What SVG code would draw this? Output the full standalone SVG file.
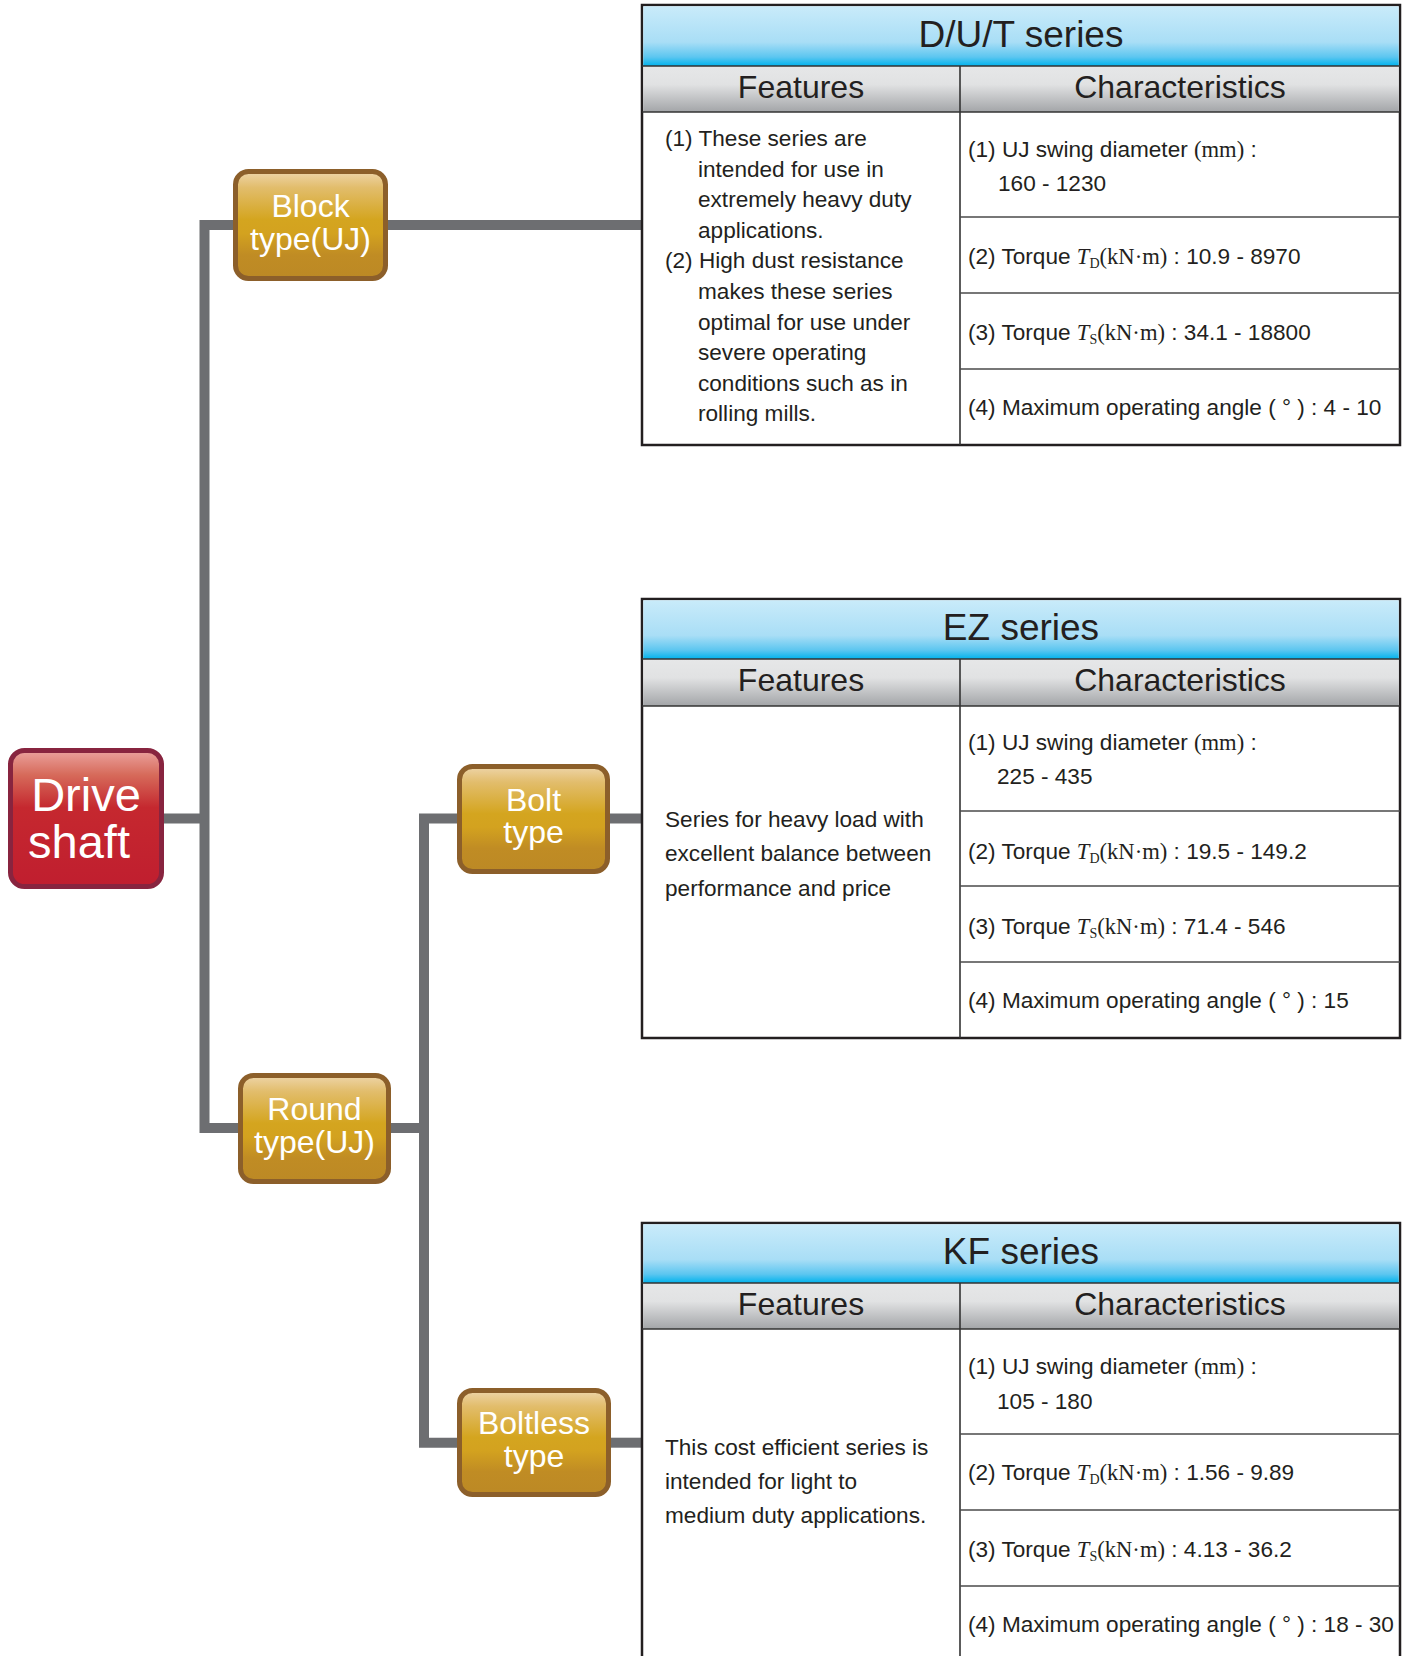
<svg xmlns="http://www.w3.org/2000/svg" width="1407" height="1656" viewBox="0 0 1407 1656">
<defs>
<linearGradient id="gGold" x1="0" y1="0" x2="0" y2="1">
<stop offset="0" stop-color="#eed5a9"/>
<stop offset="0.15" stop-color="#e2bd6c"/>
<stop offset="0.45" stop-color="#d4a51f"/>
<stop offset="0.58" stop-color="#d3a21f"/>
<stop offset="0.78" stop-color="#c08c24"/>
<stop offset="1" stop-color="#bc8925"/>
</linearGradient>
<linearGradient id="gRed" x1="0" y1="0" x2="0" y2="1">
<stop offset="0" stop-color="#eba29e"/>
<stop offset="0.18" stop-color="#d66a5a"/>
<stop offset="0.42" stop-color="#c5282f"/>
<stop offset="1" stop-color="#c01e2f"/>
</linearGradient>
<linearGradient id="gBlue" x1="0" y1="0" x2="0" y2="1">
<stop offset="0" stop-color="#c9ebfa"/>
<stop offset="0.6" stop-color="#a9def6"/>
<stop offset="0.85" stop-color="#5cc6f0"/>
<stop offset="1" stop-color="#00b3ed"/>
</linearGradient>
<linearGradient id="gGray" x1="0" y1="0" x2="0" y2="1">
<stop offset="0" stop-color="#e6e7e8"/>
<stop offset="0.4" stop-color="#e1e2e3"/>
<stop offset="1" stop-color="#a3a5a8"/>
</linearGradient>
</defs>
<style>
.conn{fill:none;stroke:#6d6e71;stroke-width:10;stroke-linejoin:miter;stroke-linecap:butt}
.gold{fill:url(#gGold);stroke:#8c5f2a;stroke-width:5}
.red{fill:url(#gRed);stroke:#88243f;stroke-width:5}
.nt{font-family:"Liberation Sans",Arial,sans-serif;fill:#ffffff;text-anchor:middle}
.outer{fill:#ffffff;stroke:#231f20;stroke-width:2.5}
.title{fill:url(#gBlue)}
.head{fill:url(#gGray)}
.ln{stroke:#333333;stroke-width:1.6;fill:none}
.rl{stroke:#4a4a4a;stroke-width:1.5;fill:none}
.tt{font-family:"Liberation Sans",Arial,sans-serif;font-size:37px;fill:#231f20;text-anchor:middle}
.ht{font-family:"Liberation Sans",Arial,sans-serif;font-size:32px;fill:#231f20;text-anchor:middle}
.bt{font-family:"Liberation Sans",Arial,sans-serif;font-size:22.6px;fill:#231f20}
.s{font-family:"Liberation Serif","Times New Roman",serif}
.i{font-style:italic}
.sub{font-size:14px}
</style>
<rect width="1407" height="1656" fill="#ffffff"/>

<g id="connectors">
<path class="conn" d="M164 818.5 H204.5"/>
<path class="conn" d="M233 225 H204.5 V1128 H238"/>
<path class="conn" d="M388 225 H642"/>
<path class="conn" d="M391 1128 H424"/>
<path class="conn" d="M457 818.5 H424 V1442.7 H457"/>
<path class="conn" d="M610 818.5 H642"/>
<path class="conn" d="M611 1442.7 H642"/>
</g>

<g id="node-drive-shaft">
<rect class="red" x="10.5" y="750.5" width="151" height="136" rx="14"/>
<text class="nt" x="86" y="811" font-size="47">Drive</text>
<text class="nt" x="79" y="858" font-size="47">shaft</text>
</g>

<g id="node-block-type">
<rect class="gold" x="235.5" y="171.5" width="150" height="107" rx="13"/>
<text class="nt" x="310.5" y="217" font-size="32">Block</text>
<text class="nt" x="310.5" y="250" font-size="32">type(UJ)</text>
</g>

<g id="node-round-type">
<rect class="gold" x="240.5" y="1075.5" width="148" height="106" rx="13"/>
<text class="nt" x="314.5" y="1120" font-size="32">Round</text>
<text class="nt" x="314.5" y="1153" font-size="32">type(UJ)</text>
</g>

<g id="node-bolt-type">
<rect class="gold" x="459.5" y="766.5" width="148" height="105" rx="13"/>
<text class="nt" x="533.5" y="811" font-size="32">Bolt</text>
<text class="nt" x="533.5" y="843" font-size="32">type</text>
</g>

<g id="node-boltless-type">
<rect class="gold" x="459.5" y="1390.5" width="149" height="104" rx="13"/>
<text class="nt" x="534" y="1434" font-size="32">Boltless</text>
<text class="nt" x="534" y="1467" font-size="32">type</text>
</g>

<g id="table-dut">
<rect class="outer" x="642" y="5" width="758" height="440"/>
<rect class="title" x="643.3" y="6.3" width="755.4" height="59.7"/>
<rect class="head" x="643.3" y="66" width="755.4" height="46"/>
<line class="ln" x1="642" y1="66" x2="1400" y2="66"/>
<line class="ln" x1="642" y1="112" x2="1400" y2="112"/>
<line class="ln" x1="960" y1="66" x2="960" y2="445"/>
<line class="rl" x1="960" y1="217" x2="1400" y2="217"/>
<line class="rl" x1="960" y1="293" x2="1400" y2="293"/>
<line class="rl" x1="960" y1="369" x2="1400" y2="369"/>
<text class="tt" x="1021" y="47">D/U/T series</text>
<text class="ht" x="801" y="98">Features</text>
<text class="ht" x="1180" y="98">Characteristics</text>
<text class="bt" x="665" y="146">(1) These series are</text>
<text class="bt" x="698" y="176.6">intended for use in</text>
<text class="bt" x="698" y="207.2">extremely heavy duty</text>
<text class="bt" x="698" y="237.8">applications.</text>
<text class="bt" x="665" y="268.4">(2) High dust resistance</text>
<text class="bt" x="698" y="299">makes these series</text>
<text class="bt" x="698" y="329.6">optimal for use under</text>
<text class="bt" x="698" y="360.2">severe operating</text>
<text class="bt" x="698" y="390.8">conditions such as in</text>
<text class="bt" x="698" y="421.4">rolling mills.</text>
<text class="bt" x="968" y="157">(1) UJ swing diameter <tspan class="s">(mm)</tspan> :</text>
<text class="bt" x="998" y="191">160 - 1230</text>
<text class="bt" x="968" y="264">(2) Torque <tspan class="s i">T</tspan><tspan class="s sub" dy="4">D</tspan><tspan class="s" dy="-4">(kN·m)</tspan> : 10.9 - 8970</text>
<text class="bt" x="968" y="339.5">(3) Torque <tspan class="s i">T</tspan><tspan class="s sub" dy="4">S</tspan><tspan class="s" dy="-4">(kN·m)</tspan> : 34.1 - 18800</text>
<text class="bt" x="968" y="414.5">(4) Maximum operating angle ( ° ) : 4 - 10</text>
</g>

<g id="table-ez">
<rect class="outer" x="642" y="599" width="758" height="439"/>
<rect class="title" x="643.3" y="600.3" width="755.4" height="58.7"/>
<rect class="head" x="643.3" y="659" width="755.4" height="47"/>
<line class="ln" x1="642" y1="659" x2="1400" y2="659"/>
<line class="ln" x1="642" y1="706" x2="1400" y2="706"/>
<line class="ln" x1="960" y1="659" x2="960" y2="1038"/>
<line class="rl" x1="960" y1="811" x2="1400" y2="811"/>
<line class="rl" x1="960" y1="886" x2="1400" y2="886"/>
<line class="rl" x1="960" y1="962" x2="1400" y2="962"/>
<text class="tt" x="1021" y="640">EZ series</text>
<text class="ht" x="801" y="691">Features</text>
<text class="ht" x="1180" y="691">Characteristics</text>
<text class="bt" x="665" y="826.7">Series for heavy load with</text>
<text class="bt" x="665" y="861.4">excellent balance between</text>
<text class="bt" x="665" y="896">performance and price</text>
<text class="bt" x="968" y="750">(1) UJ swing diameter <tspan class="s">(mm)</tspan> :</text>
<text class="bt" x="997" y="784">225 - 435</text>
<text class="bt" x="968" y="858.5">(2) Torque <tspan class="s i">T</tspan><tspan class="s sub" dy="4">D</tspan><tspan class="s" dy="-4">(kN·m)</tspan> : 19.5 - 149.2</text>
<text class="bt" x="968" y="933.5">(3) Torque <tspan class="s i">T</tspan><tspan class="s sub" dy="4">S</tspan><tspan class="s" dy="-4">(kN·m)</tspan> : 71.4 - 546</text>
<text class="bt" x="968" y="1008">(4) Maximum operating angle ( ° ) : 15</text>
</g>

<g id="table-kf">
<rect class="outer" x="642" y="1223" width="758" height="460"/>
<rect class="title" x="643.3" y="1224.3" width="755.4" height="58.7"/>
<rect class="head" x="643.3" y="1283" width="755.4" height="46"/>
<line class="ln" x1="642" y1="1283" x2="1400" y2="1283"/>
<line class="ln" x1="642" y1="1329" x2="1400" y2="1329"/>
<line class="ln" x1="960" y1="1283" x2="960" y2="1683"/>
<line class="rl" x1="960" y1="1434" x2="1400" y2="1434"/>
<line class="rl" x1="960" y1="1510" x2="1400" y2="1510"/>
<line class="rl" x1="960" y1="1586" x2="1400" y2="1586"/>
<text class="tt" x="1021" y="1264">KF series</text>
<text class="ht" x="801" y="1315">Features</text>
<text class="ht" x="1180" y="1315">Characteristics</text>
<text class="bt" x="665" y="1455">This cost efficient series is</text>
<text class="bt" x="665" y="1488.5">intended for light to</text>
<text class="bt" x="665" y="1523">medium duty applications.</text>
<text class="bt" x="968" y="1373.5">(1) UJ swing diameter <tspan class="s">(mm)</tspan> :</text>
<text class="bt" x="997" y="1408.5">105 - 180</text>
<text class="bt" x="968" y="1480">(2) Torque <tspan class="s i">T</tspan><tspan class="s sub" dy="4">D</tspan><tspan class="s" dy="-4">(kN·m)</tspan> : 1.56 - 9.89</text>
<text class="bt" x="968" y="1556.5">(3) Torque <tspan class="s i">T</tspan><tspan class="s sub" dy="4">S</tspan><tspan class="s" dy="-4">(kN·m)</tspan> : 4.13 - 36.2</text>
<text class="bt" x="968" y="1631.5">(4) Maximum operating angle ( ° ) : 18 - 30</text>
</g>
</svg>
